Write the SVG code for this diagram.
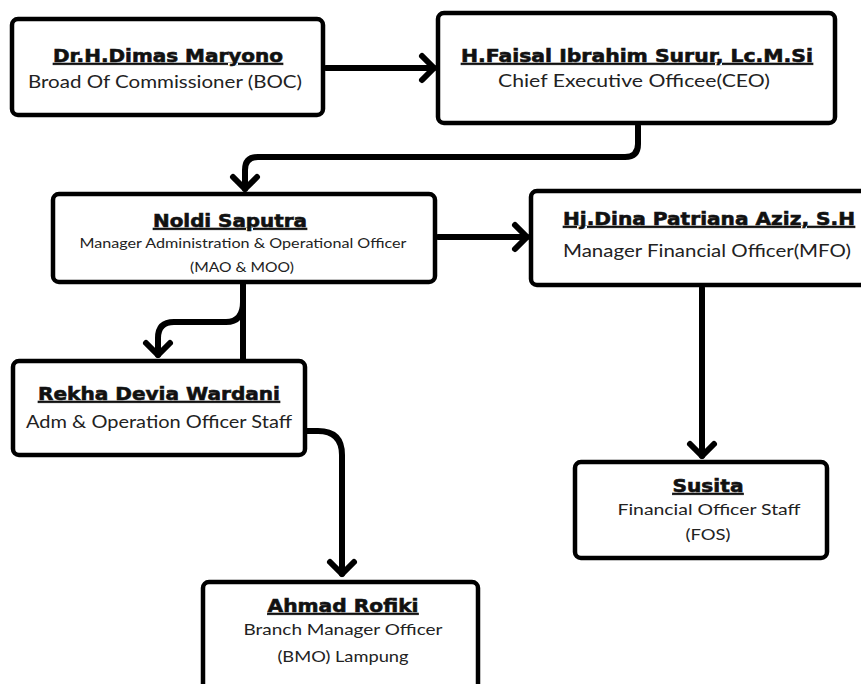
<svg xmlns="http://www.w3.org/2000/svg" width="861" height="684" viewBox="0 0 861 684">
<defs>
<marker id="chev" markerUnits="userSpaceOnUse" markerWidth="40" markerHeight="40" viewBox="-20 -20 40 40" refX="0" refY="0" orient="auto">
<path d="M-12,-12 L0,0 L-12,12" fill="none" stroke="#000" stroke-width="6" stroke-linecap="round" stroke-linejoin="round"/>
</marker>
</defs>
<style>
.box{fill:#fff;stroke:#000;stroke-width:4.5}
.name{font-family:"DejaVu Sans","Liberation Sans",sans-serif;font-weight:bold;fill:#111;stroke:#111;stroke-width:0.6;text-decoration:underline;text-anchor:middle}
.sub{font-family:"Lato","Noto Sans",sans-serif;fill:#222;text-anchor:middle}
.con{fill:none;stroke:#000;stroke-width:6;stroke-linecap:round;stroke-linejoin:round}
</style>
<rect width="861" height="684" fill="#fff"/>
<g id="connectors">
<path class="con" d="M326,68 L434,68" marker-end="url(#chev)"/>
<path class="con" d="M638,126 L638,144 Q638,157 625,157 L258,157 Q245,157 245,170 L245,189" marker-end="url(#chev)"/>
<path class="con" d="M438,237 L527,237" marker-end="url(#chev)"/>
<path class="con" d="M702,288 L702,456" marker-end="url(#chev)"/>
<path class="con" d="M243,284 L243,359"/>
<path class="con" d="M243,302 Q243,322 226,322 L174,322 Q158,322 158,338 L158,355" marker-end="url(#chev)"/>
<path class="con" d="M306,431 L318,431 Q342,431 342,455 L342,574" marker-end="url(#chev)"/>
</g>
<g id="boc">
<rect class="box" x="12" y="19" width="311" height="96" rx="6"/>
<text class="name" x="168" y="62" font-size="18" textLength="230" lengthAdjust="spacingAndGlyphs">Dr.H.Dimas Maryono</text>
<text class="sub" x="165" y="88" font-size="18" textLength="274" lengthAdjust="spacingAndGlyphs">Broad Of Commissioner (BOC)</text>
</g>
<g id="ceo">
<rect class="box" x="438" y="13" width="397" height="110" rx="6"/>
<text class="name" x="637" y="62" font-size="18" textLength="352" lengthAdjust="spacingAndGlyphs">H.Faisal Ibrahim Surur, Lc.M.Si</text>
<text class="sub" x="634" y="87" font-size="18" textLength="272" lengthAdjust="spacingAndGlyphs">Chief Executive Officee(CEO)</text>
</g>
<g id="mao">
<rect class="box" x="53" y="194" width="382" height="88" rx="6"/>
<text class="name" x="230" y="227" font-size="18" textLength="154" lengthAdjust="spacingAndGlyphs">Noldi Saputra</text>
<text class="sub" x="243" y="248" font-size="14" textLength="327" lengthAdjust="spacingAndGlyphs">Manager Administration &amp; Operational Officer</text>
<text class="sub" x="242" y="272" font-size="14" textLength="104" lengthAdjust="spacingAndGlyphs">(MAO &amp; MOO)</text>
</g>
<g id="mfo">
<rect class="box" x="531" y="191" width="345" height="94" rx="6"/>
<text class="name" x="709" y="225" font-size="18" textLength="292" lengthAdjust="spacingAndGlyphs">Hj.Dina Patriana Aziz, S.H</text>
<text class="sub" x="707" y="257" font-size="18" textLength="288" lengthAdjust="spacingAndGlyphs">Manager Financial Officer(MFO)</text>
</g>
<g id="rekha">
<rect class="box" x="13" y="361" width="292" height="94" rx="6"/>
<text class="name" x="159" y="400" font-size="18" textLength="242" lengthAdjust="spacingAndGlyphs">Rekha Devia Wardani</text>
<text class="sub" x="159" y="428" font-size="17" textLength="266" lengthAdjust="spacingAndGlyphs">Adm &amp; Operation Officer Staff</text>
</g>
<g id="susita">
<rect class="box" x="575" y="462" width="252" height="96" rx="6"/>
<text class="name" x="708" y="492" font-size="18" textLength="71" lengthAdjust="spacingAndGlyphs">Susita</text>
<text class="sub" x="709" y="515" font-size="15" textLength="183" lengthAdjust="spacingAndGlyphs">Financial Officer Staff</text>
<text class="sub" x="708" y="540" font-size="15" textLength="45" lengthAdjust="spacingAndGlyphs">(FOS)</text>
</g>
<g id="bmo">
<rect class="box" x="203" y="582" width="275" height="130" rx="6"/>
<text class="name" x="343" y="612" font-size="18" textLength="151" lengthAdjust="spacingAndGlyphs">Ahmad Rofiki</text>
<text class="sub" x="343" y="635" font-size="15" textLength="199" lengthAdjust="spacingAndGlyphs">Branch Manager Officer</text>
<text class="sub" x="343" y="662" font-size="15" textLength="131" lengthAdjust="spacingAndGlyphs">(BMO) Lampung</text>
</g>
</svg>
